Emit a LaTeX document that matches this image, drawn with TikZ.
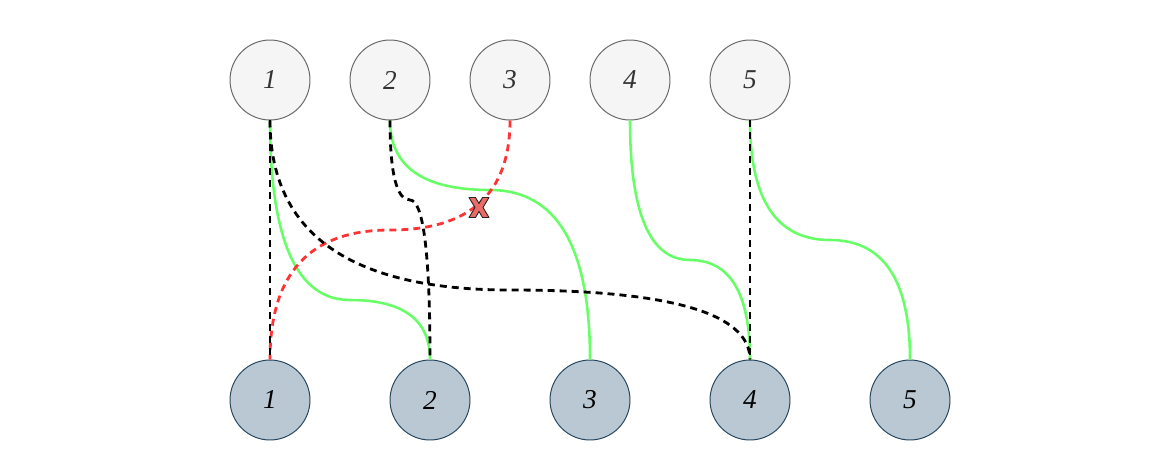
\documentclass[tikz,border=0pt]{standalone}
\usepackage{fontspec}
\setmainfont{Liberation Serif}
\usepackage{xcolor}
\usepackage{tikz}
\usetikzlibrary{calc}

\definecolor{topfill}{HTML}{F5F5F5}
\definecolor{topline}{HTML}{666666}
\definecolor{botfill}{HTML}{BAC8D3}
\definecolor{botline}{HTML}{23445D}
\definecolor{keepcol}{HTML}{66FF66}
\definecolor{dropcol}{HTML}{FF3333}
\definecolor{crossfill}{HTML}{EA6B66}

% S-shaped wire: style, from, to, level of the flat middle part
\newcommand{\sbend}[4]{%
  \path (#2 |- 0,#4) coordinate (p1) (#3 |- 0,#4) coordinate (p2);
  \path ($(p1)!0.5!(p2)$) coordinate (pm);
  \draw[#1] (#2) .. controls ($(#2)!2/3!(p1)$) and ($(pm)!2/3!(p1)$) .. (pm)
    .. controls ($(pm)!2/3!(p2)$) and ($(#3)!2/3!(p2)$) .. (#3);}

\begin{document}
\begin{tikzpicture}[x=0.02cm,y=-0.02cm,line cap=butt,line join=round,
  topnode/.style={circle,draw=topline,fill=topfill,line width=0.55pt,
    minimum size=1.6cm,inner sep=0pt,text=black!80,font=\fontsize{15.5}{18}\selectfont\itshape},
  botnode/.style={circle,draw=botline,fill=botfill,line width=0.55pt,
    minimum size=1.6cm,inner sep=0pt,text=black,font=\fontsize{15.5}{18}\selectfont\itshape},
  keep/.style={draw=keepcol,line width=1.45pt},
  drop/.style={draw=dropcol,line width=1.6pt,dash pattern=on 0.14cm off 0.1cm},
  link/.style={draw=black,line width=1.6pt,dash pattern=on 0.14cm off 0.1cm}]
\useasboundingbox (0,0) rectangle (1161,461);

\node[topnode] (t1) at (270,80) {1};
\node[topnode] (t2) at (390,80) {2};
\node[topnode] (t3) at (510,80) {3};
\node[topnode] (t4) at (630,80) {4};
\node[topnode] (t5) at (750,80) {5};

\node[botnode] (b1) at (270,400) {1};
\node[botnode] (b2) at (430,400) {2};
\node[botnode] (b3) at (590,400) {3};
\node[botnode] (b4) at (750,400) {4};
\node[botnode] (b5) at (910,400) {5};

% kept matches
\sbend{keep}{t1.south}{b2.north}{300}
\sbend{keep}{t2.south}{b3.north}{190}
\sbend{keep}{t4.south}{b4.north}{260}
\sbend{keep}{t5.south}{b5.north}{240}

% rejected match
\sbend{drop}{t3.south}{b1.north}{230}

% other links
\draw[link] (t1) -- (b1);
\draw[link] (t5) -- (b4);
\sbend{link}{t2.south}{b2.north}{200}
\sbend{link}{t1.south}{b4.north}{290}

% cross on the rejected match
\coordinate (cross) at (479,207.5);
\filldraw[fill=crossfill,draw=black!85,line width=0.5pt,shift={(cross)}]
  (-10,-10) -- (-3.5,-10) -- (0,-4) -- (3.5,-10) -- (10,-10) -- (4,0)
  -- (10,10) -- (3.5,10) -- (0,4) -- (-3.5,10) -- (-10,10) -- (-4,0) -- cycle;
\end{tikzpicture}
\end{document}
